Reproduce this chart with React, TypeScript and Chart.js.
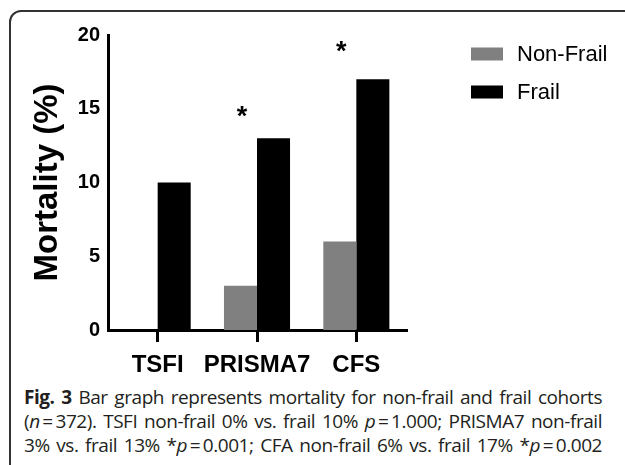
import React, { useEffect, useRef } from "react";
import { Chart, registerables } from "chart.js";

Chart.register(...registerables);

const categories = ["TSFI", "PRISMA7", "CFS"];
const nonFrailValues = [0, 3, 6];
const frailValues = [10, 13, 17];
const seriesLabels = ["Non-Frail", "Frail"];
const seriesColors = ["#808080", "#000000"];
const yTickValues = [0, 5, 10, 15, 20];
const starLevels: (number | null)[] = [null, 14.8, 19.2];

const FONT = "'Liberation Sans', Arial, Helvetica, sans-serif";

const starPlugin = {
  id: "stars",
  afterDatasetsDraw(chart: any) {
    const ctx = chart.ctx;
    const meta0 = chart.getDatasetMeta(0);
    const yScale = chart.scales.y;
    ctx.save();
    ctx.font = `bold 27px ${FONT}`;
    ctx.fillStyle = "#000";
    ctx.textAlign = "center";
    ctx.textBaseline = "alphabetic";
    const m = ctx.measureText("*");
    const off = (m.actualBoundingBoxAscent - m.actualBoundingBoxDescent) / 2;
    starLevels.forEach((lvl, i) => {
      if (lvl == null) return;
      const bar = meta0.data[i];
      ctx.fillText("*", bar.x + 1.5, yScale.getPixelForValue(lvl) + off);
    });
    ctx.restore();
  },
};

const legendPlugin = {
  id: "sideLegend",
  afterDraw(chart: any) {
    const ctx = chart.ctx;
    const area = chart.chartArea;
    ctx.save();
    ctx.font = `22px ${FONT}`;
    ctx.textBaseline = "middle";
    ctx.textAlign = "left";
    chart.data.datasets.forEach((ds: any, i: number) => {
      const cy = 54 + i * 38;
      const bx = area.right + 65;
      ctx.fillStyle = ds.backgroundColor;
      ctx.fillRect(bx, cy - 6.5, 32, 13);
      ctx.fillStyle = "#000";
      ctx.fillText(ds.label, bx + 46, cy + 1);
    });
    ctx.restore();
  },
};

export default function App() {
  const ref = useRef<HTMLCanvasElement | null>(null);

  useEffect(() => {
    if (!ref.current) return;
    const chart = new Chart(ref.current, {
      type: "bar",
      data: {
        labels: categories,
        datasets: [
          {
            label: seriesLabels[0],
            data: nonFrailValues,
            backgroundColor: seriesColors[0],
            borderWidth: 0,
            barPercentage: 1,
            categoryPercentage: 0.665,
          },
          {
            label: seriesLabels[1],
            data: frailValues,
            backgroundColor: seriesColors[1],
            borderWidth: 0,
            barPercentage: 1,
            categoryPercentage: 0.665,
          },
        ],
      },
      options: {
        responsive: false,
        animation: false,
        devicePixelRatio: 1,
        layout: { padding: { left: 24, right: 219, top: 35, bottom: 0 } },
        plugins: {
          legend: { display: false },
          tooltip: { enabled: false },
          title: { display: false },
        },
        scales: {
          x: {
            offset: true,
            grid: {
              display: true,
              drawOnChartArea: false,
              drawTicks: true,
              tickLength: 12,
              lineWidth: 3,
              color: "#000",
              offset: false,
            },
            border: { display: true, width: 3, color: "#000" },
            ticks: {
              color: "#000",
              padding: 9,
              font: { family: FONT, size: 24, weight: "bold" },
              maxRotation: 0,
              autoSkip: false,
            },
            afterFit: (s: any) => {
              s.height = 50;
            },
          },
          y: {
            min: 0,
            max: 20,
            grid: { display: false, drawTicks: false },
            border: { display: true, width: 3, color: "#000" },
            afterBuildTicks: (s: any) => {
              s.ticks = yTickValues.map((v) => ({ value: v }));
            },
            ticks: {
              color: "#000",
              padding: 8,
              font: { family: FONT, size: 20, weight: "bold" },
            },
            title: {
              display: true,
              text: "Mortality (%)",
              color: "#000",
              font: { family: FONT, size: 33, weight: "bold" },
              padding: { top: 4, bottom: 4 },
            },
            afterFit: (s: any) => {
              s.width = 84;
            },
          },
        },
      },
      plugins: [starPlugin, legendPlugin],
    });
    return () => chart.destroy();
  }, []);

  const lineStyle: React.CSSProperties = {
    width: 578,
    height: 24,
    lineHeight: "24px",
    whiteSpace: "nowrap",
    textAlign: "justify",
    textAlignLast: "justify",
  };

  return (
    <div
      style={{
        position: "fixed",
        left: 0,
        top: 0,
        width: 625,
        height: 465,
        overflow: "hidden",
        background: "#fff",
      }}
    >
      <div
        style={{
          position: "absolute",
          left: 9,
          top: 10,
          width: 700,
          height: 600,
          border: "2px solid #333",
          borderTopLeftRadius: 12,
          boxSizing: "border-box",
        }}
      />
      <canvas
        ref={ref}
        width={625}
        height={380}
        style={{ position: "absolute", left: 0, top: 0, width: 625, height: 380 }}
      />
      <div
        style={{
          position: "absolute",
          left: 24,
          top: 385,
          fontFamily: "'Open Sans', 'Noto Sans', sans-serif",
          fontSize: 19,
          letterSpacing: "-0.45px",
          color: "#231f20",
        }}
      >
        <div style={lineStyle}>
          <b>Fig. 3</b> Bar graph represents mortality for non-frail and frail cohorts
        </div>
        <div style={lineStyle}>
          (<i>n</i>{"\u2009=\u2009"}372). TSFI non-frail 0% vs. frail 10% <i>p</i>{"\u2009=\u2009"}1.000; PRISMA7 non-frail
        </div>
        <div style={lineStyle}>
          3% vs. frail 13% *<i>p</i>{"\u2009=\u2009"}0.001; CFA non-frail 6% vs. frail 17% *<i>p</i>{"\u2009=\u2009"}0.002
        </div>
      </div>
    </div>
  );
}
